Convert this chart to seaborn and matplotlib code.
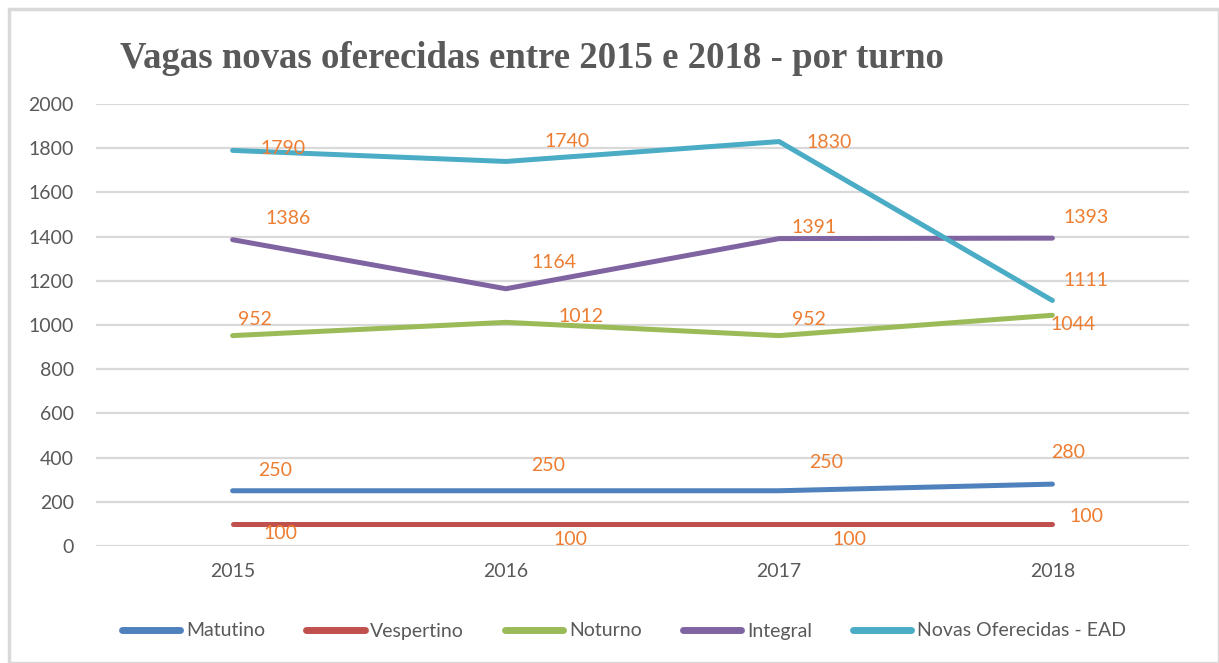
import matplotlib
matplotlib.use("Agg")
import matplotlib.pyplot as plt
import seaborn as sns
import pandas as pd
from matplotlib.patches import Rectangle

years = ["2015", "2016", "2017", "2018"]
series_names = ["Matutino", "Vespertino", "Noturno", "Integral", "Novas Oferecidas - EAD"]
matutino = [250, 250, 250, 280]
vespertino = [100, 100, 100, 100]
noturno = [952, 1012, 952, 1044]
integral = [1386, 1164, 1391, 1393]
ead = [1790, 1740, 1830, 1111]
yticks = list(range(0, 2001, 200))
title = "Vagas novas oferecidas entre 2015 e 2018 - por turno"

values = [matutino, vespertino, noturno, integral, ead]
colors = ["#4F81BD", "#C0504D", "#9BBB59", "#8064A2", "#4BACC6"]
# label offsets in pixels (dx, dy)
offsets = [
    [(43, 20), (42, 25), (47, 28), (16, 32)],
    [(48, -10), (65, -16), (70, -16), (34, 7)],
    [(22, 16), (75, 6), (30, 16), (21, -9)],
    [(55, 21), (48, 26), (35, 11), (34, 21)],
    [(50, 2), (61, 20), (50, -1), (34, 20)],
]

rows = []
for name, vals in zip(series_names, values):
    for y, v in zip(years, vals):
        rows.append({"Ano": y, "Vagas": v, "Turno": name})
df = pd.DataFrame(rows)

sns.set_theme(style="white")
plt.rcParams["font.family"] = ["Lato", "DejaVu Sans"]

fig = plt.figure(figsize=(12.19, 6.63), dpi=100)
ax = fig.add_axes([96 / 1219, 1 - 546 / 663, (1189 - 96) / 1219, (546 - 104) / 663])

sns.lineplot(data=df, x="Ano", y="Vagas", hue="Turno", hue_order=series_names,
             palette=colors, linewidth=3.6, sort=False, ax=ax, legend=True,
             solid_capstyle="round")

for i, (name, vals) in enumerate(zip(series_names, values)):
    for j, v in enumerate(vals):
        ax.annotate(str(v), xy=(j, v), xytext=offsets[i][j], textcoords="offset pixels",
                    ha="center", va="center", color="#ED7D31", fontsize=14)

ax.set_xlim(-0.5, 3.5)
ax.set_ylim(0, 2000)
ax.set_yticks(yticks)
ax.set_yticklabels([str(t) for t in yticks])
ax.yaxis.grid(True, color="#D9D9D9", linewidth=1.6)
ax.xaxis.grid(False)
for s in ax.spines.values():
    s.set_visible(False)
ax.tick_params(axis="both", colors="#595959", labelsize=14, length=0)
ax.tick_params(axis="y", pad=16)
ax.tick_params(axis="x", pad=12)
ax.set_xlabel("")
ax.set_ylabel("")

handles, labels = ax.get_legend_handles_labels()
ax.legend_.remove()
leg = fig.legend(handles, labels, loc="center", bbox_to_anchor=(624 / 1219, 1 - 631 / 663),
                 ncol=5, frameon=False, fontsize=14, handlelength=3.0, handletextpad=0.3,
                 columnspacing=2.1)
for t in leg.get_texts():
    t.set_color("#595959")
for h in leg.get_lines():
    h.set_linewidth(5)

fig.text(120 / 1219, 1 - 58 / 663, title, ha="left", va="center",
         fontsize=26.5, fontweight="bold", color="#595959", family="Liberation Serif")

fig.patches.append(Rectangle((9 / 1219, 0), 1 - 9 / 1219, 1 - 9 / 663, transform=fig.transFigure,
                             fill=False, edgecolor="#D9D9D9", linewidth=2.5))

fig.savefig("out.png", dpi=100)
